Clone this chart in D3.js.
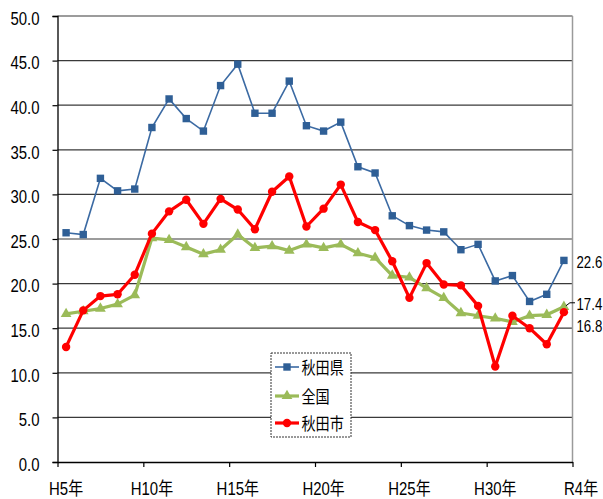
<!DOCTYPE html>
<html>
<head>
<meta charset="utf-8">
<script src="https://cdn.jsdelivr.net/npm/d3@7"></script>
<style>
  html, body { margin: 0; padding: 0; background: #fff; }
  svg text { font-family: "Liberation Sans", Arial, "Noto Sans CJK JP", sans-serif; fill: #000; }
</style>
</head>
<body>
<div id="chartContainer"></div>
<script>
const years = ["H5","H6","H7","H8","H9","H10","H11","H12","H13","H14","H15","H16","H17","H18","H19",
  "H20","H21","H22","H23","H24","H25","H26","H27","H28","H29","H30","H31","R2","R3","R4"];
const akitaPref = [25.7, 25.5, 31.8, 30.4, 30.6, 37.5, 40.7, 38.5, 37.1, 42.2, 44.6, 39.1, 39.1, 42.7, 37.7,
  37.1, 38.1, 33.1, 32.4, 27.6, 26.5, 26.0, 25.8, 23.8, 24.4, 20.3, 20.9, 18.0, 18.8, 22.6];
const national = [16.6, 16.9, 17.2, 17.7, 18.7, 25.1, 24.9, 24.1, 23.3, 23.8, 25.5, 24.0, 24.2, 23.7, 24.4,
  24.0, 24.4, 23.4, 22.9, 20.9, 20.7, 19.5, 18.4, 16.7, 16.4, 16.1, 15.7, 16.4, 16.5, 17.4];
const akitaCity = [12.9, 17.0, 18.6, 18.8, 21.0, 25.6, 28.1, 29.4, 26.7, 29.5, 28.3, 26.1, 30.3, 32.0, 26.4,
  28.4, 31.1, 26.9, 26.0, 22.5, 18.4, 22.3, 19.9, 19.8, 17.5, 10.7, 16.4, 15.0, 13.2, 16.8];
const xTickIndex = [0, 5, 10, 15, 20, 25, 30];
const xTickLabels = ["H5年", "H10年", "H15年", "H20年", "H25年", "H30年", "R4年"];
const yTicks = [0, 5, 10, 15, 20, 25, 30, 35, 40, 45, 50];
const seriesNames = ["秋田県", "全国", "秋田市"];

const width = 603, height = 499;
const margin = { left: 57.5, right: 572.5, top: 16, bottom: 462 };
const squeeze = 0.83; // text in the original is horizontally compressed

const svg = d3.select("#chartContainer").append("svg")
  .attr("width", width).attr("height", height);

const x = d3.scaleLinear().domain([-0.5, years.length - 0.5]).range([margin.left, margin.right]);
const y = d3.scaleLinear().domain([0, 50]).range([margin.bottom, margin.top]);

const addText = (parent, tx, ty, str, size, anchor, sx) => parent.append("text")
  .attr("transform", `translate(${tx},${ty}) scale(${sx || squeeze},1)`)
  .attr("font-size", size)
  .attr("text-anchor", anchor || "start")
  .text(str);

// grid lines
svg.append("g").selectAll("line")
  .data(yTicks.filter(d => d > 0))
  .enter().append("line")
  .attr("x1", margin.left).attr("x2", margin.right)
  .attr("y1", d => y(d)).attr("y2", d => y(d))
  .attr("stroke", "#3a3a3a").attr("stroke-width", 1.2);

// right border
svg.append("line")
  .attr("x1", margin.right).attr("x2", margin.right).attr("y1", margin.top).attr("y2", margin.bottom)
  .attr("stroke", "#9a9a9a").attr("stroke-width", 1.5);

// y axis
const yAxis = svg.append("g")
  .attr("transform", `translate(${margin.left},0)`)
  .call(d3.axisLeft(y).tickValues(yTicks).tickFormat(d3.format(".1f")).tickSize(5));
yAxis.attr("font-family", null).attr("font-size", null);
yAxis.select(".domain").attr("stroke", "#000").attr("stroke-width", 1.3);
yAxis.selectAll(".tick line").attr("stroke", "#000").attr("stroke-width", 1.2);
yAxis.selectAll(".tick text")
  .attr("x", 0).attr("y", 2.5)
  .attr("transform", `translate(-18,0) scale(${squeeze},1)`)
  .attr("font-size", 18).attr("fill", "#000");

// x axis
const xAxis = svg.append("g")
  .attr("transform", `translate(0,${margin.bottom})`)
  .call(d3.axisBottom(x).tickValues(xTickIndex.map(i => i - 0.5)).tickFormat("").tickSize(5).tickSizeOuter(0));
xAxis.select(".domain").attr("stroke", "#000").attr("stroke-width", 1.3);
xAxis.selectAll(".tick line").attr("stroke", "#000").attr("stroke-width", 1.2);

const xLabels = svg.append("g");
xTickIndex.forEach((d, i) => addText(xLabels, x(d), 495, xTickLabels[i], 18, "middle"));

const line = d3.line().x((d, i) => x(i)).y(d => y(d));

// 秋田県
svg.append("path").datum(akitaPref)
  .attr("d", line).attr("fill", "none")
  .attr("stroke", "#3b6aa3").attr("stroke-width", 1.6);
svg.append("g").selectAll("rect").data(akitaPref).enter().append("rect")
  .attr("x", (d, i) => x(i) - 3.7).attr("y", d => y(d) - 3.7)
  .attr("width", 7.4).attr("height", 7.4)
  .attr("fill", "#2f5f96");

// 全国
const tri = d3.symbol().type(d3.symbolTriangle).size(50);
svg.append("path").datum(national)
  .attr("d", line).attr("fill", "none")
  .attr("stroke", "#9bbb59").attr("stroke-width", 3.2).attr("stroke-linejoin", "round");
svg.append("g").selectAll("path").data(national).enter().append("path")
  .attr("d", tri)
  .attr("transform", (d, i) => `translate(${x(i)},${y(d)})`)
  .attr("fill", "#9bbb59");

// 秋田市
svg.append("path").datum(akitaCity)
  .attr("d", line).attr("fill", "none")
  .attr("stroke", "#ff0000").attr("stroke-width", 3.2).attr("stroke-linejoin", "round");
svg.append("g").selectAll("circle").data(akitaCity).enter().append("circle")
  .attr("cx", (d, i) => x(i)).attr("cy", d => y(d)).attr("r", 4.2)
  .attr("fill", "#ff0000");

// end labels
const last = years.length - 1;
const endLabels = svg.append("g");
addText(endLabels, 576.5, y(akitaPref[last]) + 8, akitaPref[last].toFixed(1), 17, "start", 0.78);
svg.append("polyline")
  .attr("points", [[x(last) + 2, y(national[last]) - 1], [x(last) + 6, y(national[last]) - 4], [575, y(national[last]) - 4]].join(" "))
  .attr("fill", "none").attr("stroke", "#000").attr("stroke-width", 1);
addText(endLabels, 576.5, y(national[last]) + 3, national[last].toFixed(1), 17, "start", 0.78);
addText(endLabels, 576.5, y(akitaCity[last]) + 20, akitaCity[last].toFixed(1), 17, "start", 0.78);

// legend
const legend = svg.append("g").attr("transform", "translate(271,353)");
legend.append("rect").attr("width", 80).attr("height", 84)
  .attr("fill", "#fff").attr("stroke", "#333").attr("stroke-dasharray", "2,1");
const legendRows = [
  { name: seriesNames[0], color: "#3b6aa3", sw: 1.6, mark: "rect", fill: "#2f5f96" },
  { name: seriesNames[1], color: "#9bbb59", sw: 3.2, mark: "tri", fill: "#9bbb59" },
  { name: seriesNames[2], color: "#ff0000", sw: 3.2, mark: "circle", fill: "#ff0000" }
];
const rowY = [14, 43, 70];
legendRows.forEach((r, i) => {
  const g = legend.append("g").attr("transform", `translate(0,${rowY[i]})`);
  g.append("line").attr("x1", 4).attr("x2", 28).attr("stroke", r.color).attr("stroke-width", r.sw);
  if (r.mark === "rect") {
    g.append("rect").attr("x", 12.3).attr("y", -3.7).attr("width", 7.4).attr("height", 7.4).attr("fill", r.fill);
  } else if (r.mark === "tri") {
    g.append("path").attr("d", tri).attr("transform", "translate(16,0)").attr("fill", r.fill);
  } else {
    g.append("circle").attr("cx", 16).attr("r", 4.2).attr("fill", r.fill);
  }
  addText(g, 30.5, 6.5, r.name, 17).style("font-family", "'Noto Sans CJK JP', sans-serif");
});
</script>
</body>
</html>
